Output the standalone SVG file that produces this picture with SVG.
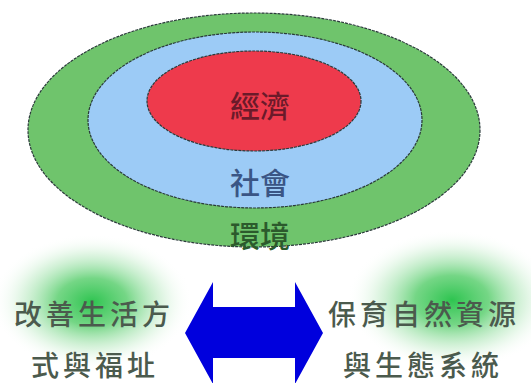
<svg xmlns="http://www.w3.org/2000/svg" width="531" height="383" viewBox="0 0 531 383">
<defs>
<radialGradient id="glow">
<stop offset="0" stop-color="#2ec450" stop-opacity="1"/>
<stop offset="0.35" stop-color="#5ccf70" stop-opacity="0.85"/>
<stop offset="0.7" stop-color="#b5e8bd" stop-opacity="0.45"/>
<stop offset="1" stop-color="#ffffff" stop-opacity="0"/>
</radialGradient>
</defs>
<style>
.ring{stroke:#2a3a3a;stroke-width:1.2;stroke-dasharray:3 1}
.lbl{font-family:"Noto Sans CJK TC","Noto Sans CJK SC",sans-serif;font-size:30px;font-weight:500;text-anchor:middle;dominant-baseline:central}
.side{font-family:"Noto Sans CJK TC","Noto Sans CJK SC",sans-serif;font-size:28px;font-weight:500;text-anchor:middle;dominant-baseline:central;fill:#4b5a4d;letter-spacing:4px}
</style>
<rect width="531" height="383" fill="#ffffff"/>
<ellipse cx="92" cy="302" rx="100" ry="68" fill="url(#glow)"/>
<ellipse cx="452" cy="300" rx="105" ry="70" fill="url(#glow)"/>
<g id="environment">
<ellipse class="ring" cx="254" cy="130" rx="226" ry="117" fill="#6fc46c"/>
<text class="lbl" x="260" y="234" fill="#2c5a2c">環境</text>
</g>
<g id="society">
<ellipse class="ring" cx="255" cy="120" rx="167" ry="88" fill="#9ccbf6"/>
<text class="lbl" x="260" y="181" fill="#3a5585">社會</text>
</g>
<g id="economy">
<ellipse class="ring" cx="254" cy="101" rx="107" ry="50" fill="#ee3a4c"/>
<text class="lbl" x="260" y="104" fill="#6b1a2a">經濟</text>
</g>
<g id="connectors">
<polygon points="185,333 213,282 213,307 295,307 295,282 323,333 295,384 295,358 213,358 213,384" fill="#0000dd"/>
</g>
<g id="left-text">
<text class="side" x="94" y="313">改善生活方</text>
<text class="side" x="95" y="364">式與福址</text>
</g>
<g id="right-text">
<text class="side" x="424" y="313">保育自然資源</text>
<text class="side" x="423" y="364">與生態系統</text>
</g>
</svg>
